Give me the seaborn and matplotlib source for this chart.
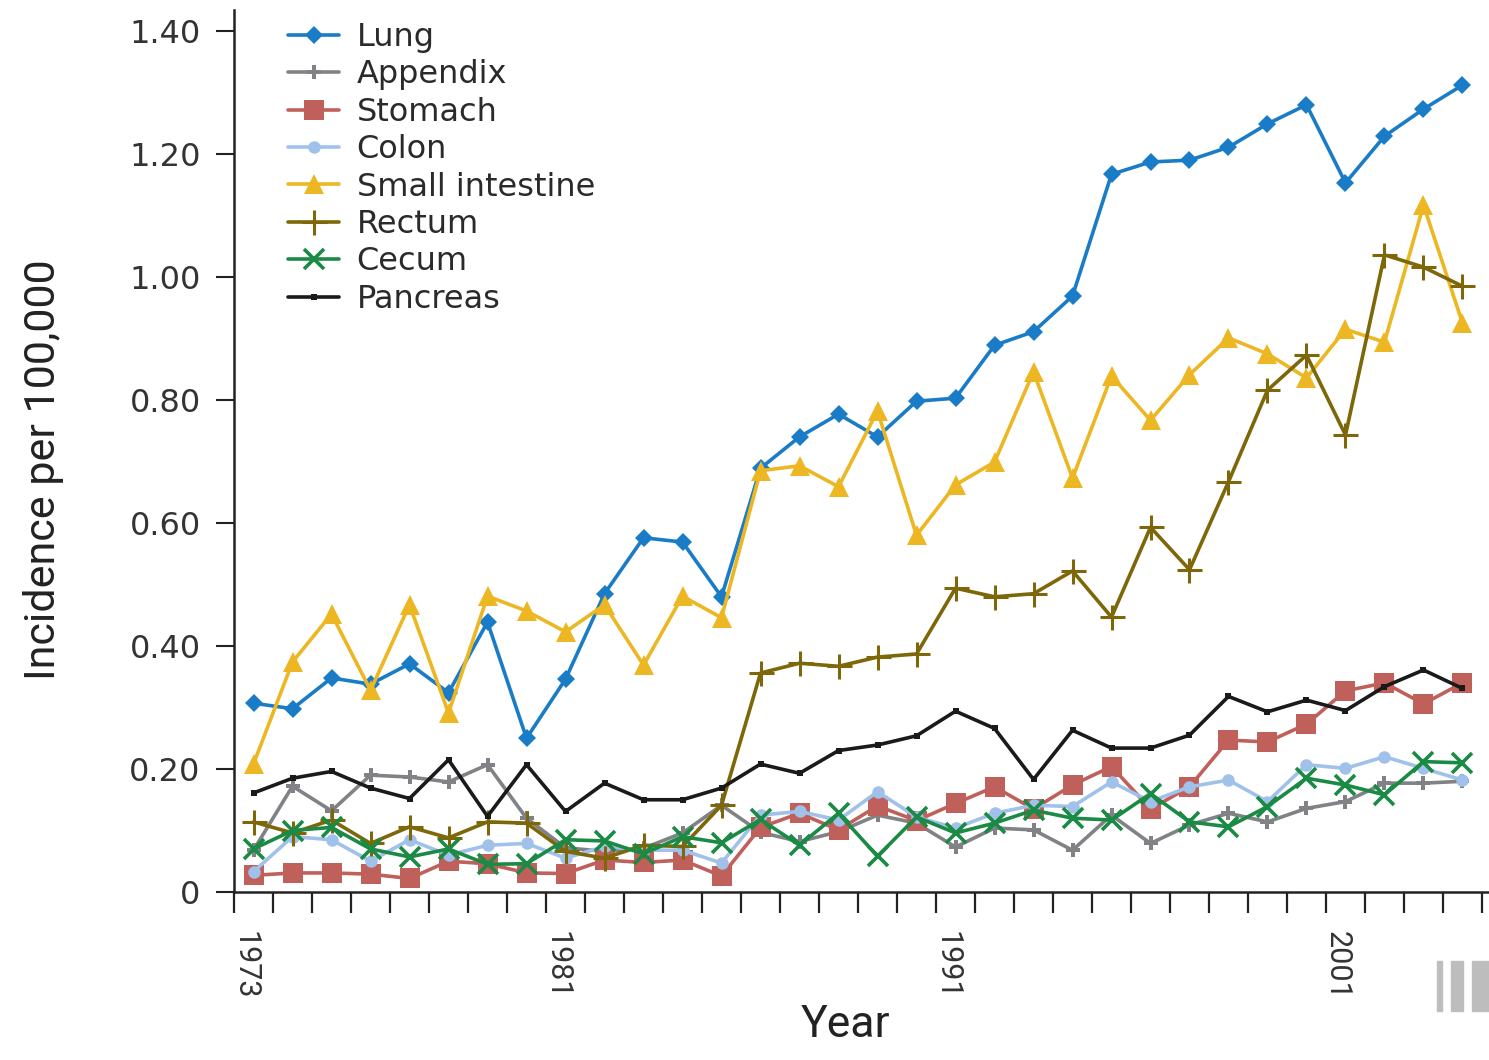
import matplotlib
matplotlib.use("Agg")
import matplotlib.pyplot as plt
from matplotlib.patches import Rectangle
from matplotlib.ticker import FixedLocator, MultipleLocator
import numpy as np
import pandas as pd
import seaborn as sns

# Incidence per 100,000, 1973-2004
years = list(range(1973, 2005))

lung = [0.307, 0.298, 0.348, 0.338, 0.371, 0.324, 0.439, 0.250, 0.346, 0.485,
        0.576, 0.569, 0.480, 0.689, 0.740, 0.777, 0.740, 0.798, 0.803, 0.889,
        0.911, 0.969, 1.167, 1.187, 1.190, 1.211, 1.249, 1.280, 1.153, 1.229,
        1.273, 1.312]
appendix = [0.068, 0.172, 0.132, 0.190, 0.187, 0.179, 0.207, 0.120, 0.072, 0.066,
            0.071, 0.096, 0.141, 0.097, 0.082, 0.098, 0.125, 0.112, 0.073, 0.104,
            0.101, 0.068, 0.125, 0.079, 0.109, 0.128, 0.114, 0.136, 0.147, 0.177,
            0.177, 0.180]
stomach = [0.027, 0.031, 0.031, 0.029, 0.022, 0.050, 0.046, 0.031, 0.030, 0.052,
           0.048, 0.052, 0.026, 0.105, 0.128, 0.101, 0.140, 0.116, 0.144, 0.171,
           0.135, 0.174, 0.204, 0.135, 0.171, 0.247, 0.244, 0.273, 0.327, 0.340,
           0.306, 0.340]
colon = [0.033, 0.090, 0.085, 0.050, 0.085, 0.060, 0.076, 0.079, 0.055, 0.074,
         0.068, 0.068, 0.047, 0.125, 0.131, 0.117, 0.163, 0.122, 0.104, 0.128,
         0.141, 0.139, 0.179, 0.147, 0.171, 0.182, 0.147, 0.207, 0.201, 0.220,
         0.201, 0.182]
small_intestine = [0.208, 0.374, 0.452, 0.328, 0.467, 0.291, 0.481, 0.457, 0.423, 0.467,
                   0.369, 0.481, 0.446, 0.685, 0.693, 0.659, 0.782, 0.580, 0.662, 0.699,
                   0.846, 0.673, 0.839, 0.767, 0.841, 0.901, 0.875, 0.836, 0.915, 0.894,
                   1.117, 0.925]
rectum = [0.114, 0.096, 0.117, 0.079, 0.106, 0.088, 0.114, 0.112, 0.066, 0.055,
          0.076, 0.074, 0.141, 0.356, 0.372, 0.367, 0.382, 0.387, 0.494, 0.480,
          0.485, 0.522, 0.447, 0.593, 0.524, 0.667, 0.816, 0.873, 0.743, 1.036,
          1.016, 0.985]
cecum = [0.070, 0.100, 0.105, 0.070, 0.057, 0.070, 0.045, 0.046, 0.085, 0.083,
         0.062, 0.090, 0.080, 0.118, 0.076, 0.128, 0.058, 0.122, 0.096, 0.112,
         0.133, 0.120, 0.117, 0.160, 0.114, 0.106, 0.139, 0.185, 0.174, 0.158,
         0.212, 0.210]
pancreas = [0.161, 0.185, 0.196, 0.169, 0.152, 0.215, 0.123, 0.207, 0.131, 0.177,
            0.150, 0.150, 0.169, 0.208, 0.193, 0.230, 0.239, 0.254, 0.294, 0.266,
            0.183, 0.263, 0.234, 0.234, 0.255, 0.318, 0.293, 0.312, 0.295, 0.334,
            0.361, 0.331]

sites = ["Lung", "Appendix", "Stomach", "Colon", "Small intestine",
         "Rectum", "Cecum", "Pancreas"]
values = [lung, appendix, stomach, colon, small_intestine, rectum, cecum, pancreas]

y_ticks = [0, 0.2, 0.4, 0.6, 0.8, 1.0, 1.2, 1.4]
y_tick_labels = ["0", "0.20", "0.40", "0.60", "0.80", "1.00", "1.20", "1.40"]
x_label_years = [1973, 1981, 1991, 2001]

# marker style per site
styles = {
    "Lung":            dict(color="#1a7cc6", marker="D", ms=9,  mew=0),
    "Appendix":        dict(color="#808285", marker="P", ms=10, mew=0),
    "Stomach":         dict(color="#c0605a", marker="s", ms=14, mew=0),
    "Colon":           dict(color="#a0c1ea", marker="o", ms=9,  mew=0),
    "Small intestine": dict(color="#ecb722", marker="^", ms=14, mew=0),
    "Rectum":          dict(color="#7d6709", marker="+", ms=18, mew=2.2),
    "Cecum":           dict(color="#1a8a45", marker="x", ms=14, mew=2.6),
    "Pancreas":        dict(color="#1a1a1a", marker="s", ms=5,  mew=0),
}

df = pd.DataFrame({
    "site": np.repeat(sites, len(years)),
    "year": np.tile(years, len(sites)),
    "incidence": np.concatenate(values),
})
# each annual value is plotted at the middle of its year
df["x"] = df["year"] + 0.5

sns.set_theme(style="ticks")
plt.rcParams["font.family"] = ["DejaVu Sans"]
narrow = ["Roboto", "DejaVu Sans"]

fig = plt.figure(figsize=(14.89, 10.60), dpi=100)
ax = fig.add_axes([234 / 1489, 1 - 892 / 1060, 1 - 234 / 1489, 882 / 1060])

for site in sites:
    st = styles[site]
    sns.lineplot(data=df[df["site"] == site], x="x", y="incidence", ax=ax,
                 color=st["color"], marker=st["marker"], markersize=st["ms"],
                 markeredgewidth=st["mew"], markeredgecolor=st["color"],
                 linewidth=2.6, label=site, errorbar=None)

ax.set_xlim(1973, 1973 + (1489 - 234) / 39)
ax.set_ylim(0, 882 / 615)

# y axis
ax.set_yticks(y_ticks)
ax.set_yticklabels(y_tick_labels)
ax.tick_params(axis="y", direction="out", length=13, width=1.5, pad=11,
               labelsize=23, labelcolor="#333333", color="#222222")

# x axis: a tick at every year boundary, labels on selected years
ax.xaxis.set_minor_locator(MultipleLocator(1))
ax.xaxis.set_major_locator(FixedLocator([y + 0.28 for y in x_label_years]))
ax.set_xticklabels([str(y) for y in x_label_years], rotation=270)
ax.tick_params(axis="x", which="major", length=0, pad=28, labelsize=22,
               labelcolor="#333333")
ax.tick_params(axis="x", which="minor", direction="out", length=15, width=1.6,
               color="#222222")
for lab in ax.get_xticklabels():
    lab.set_fontfamily(narrow)

for side in ["top", "right"]:
    ax.spines[side].set_visible(False)
for side in ["left", "bottom"]:
    ax.spines[side].set_linewidth(1.8)
    ax.spines[side].set_color("#222222")

ax.set_xlabel("Year", fontsize=32, color="#222222", family=narrow)
ax.xaxis.set_label_coords((845 - 234) / 1255, (892 - 1004) / 882)
ax.set_ylabel("Incidence per 100,000", fontsize=31, color="#222222", family=narrow)
ax.yaxis.set_label_coords((64 - 234) / 1255, (892 - 470) / 882)

ax.legend(loc="upper left", bbox_to_anchor=(288 / 1489, 1 - 22 / 1060),
          bbox_transform=fig.transFigure, frameon=False, fontsize=23,
          handlelength=1.6, handletextpad=0.55, labelspacing=0.2,
          borderpad=0, borderaxespad=0, labelcolor="#2a2a2a")

# page marker in the lower right corner
for x0, w in [(1437, 5), (1451, 12), (1472, 17)]:
    fig.patches.append(Rectangle((x0 / 1489, 1 - 1011 / 1060), w / 1489, 50 / 1060,
                                 transform=fig.transFigure, color="#bdbdbd",
                                 zorder=0))

fig.savefig("out.png", dpi=100)
